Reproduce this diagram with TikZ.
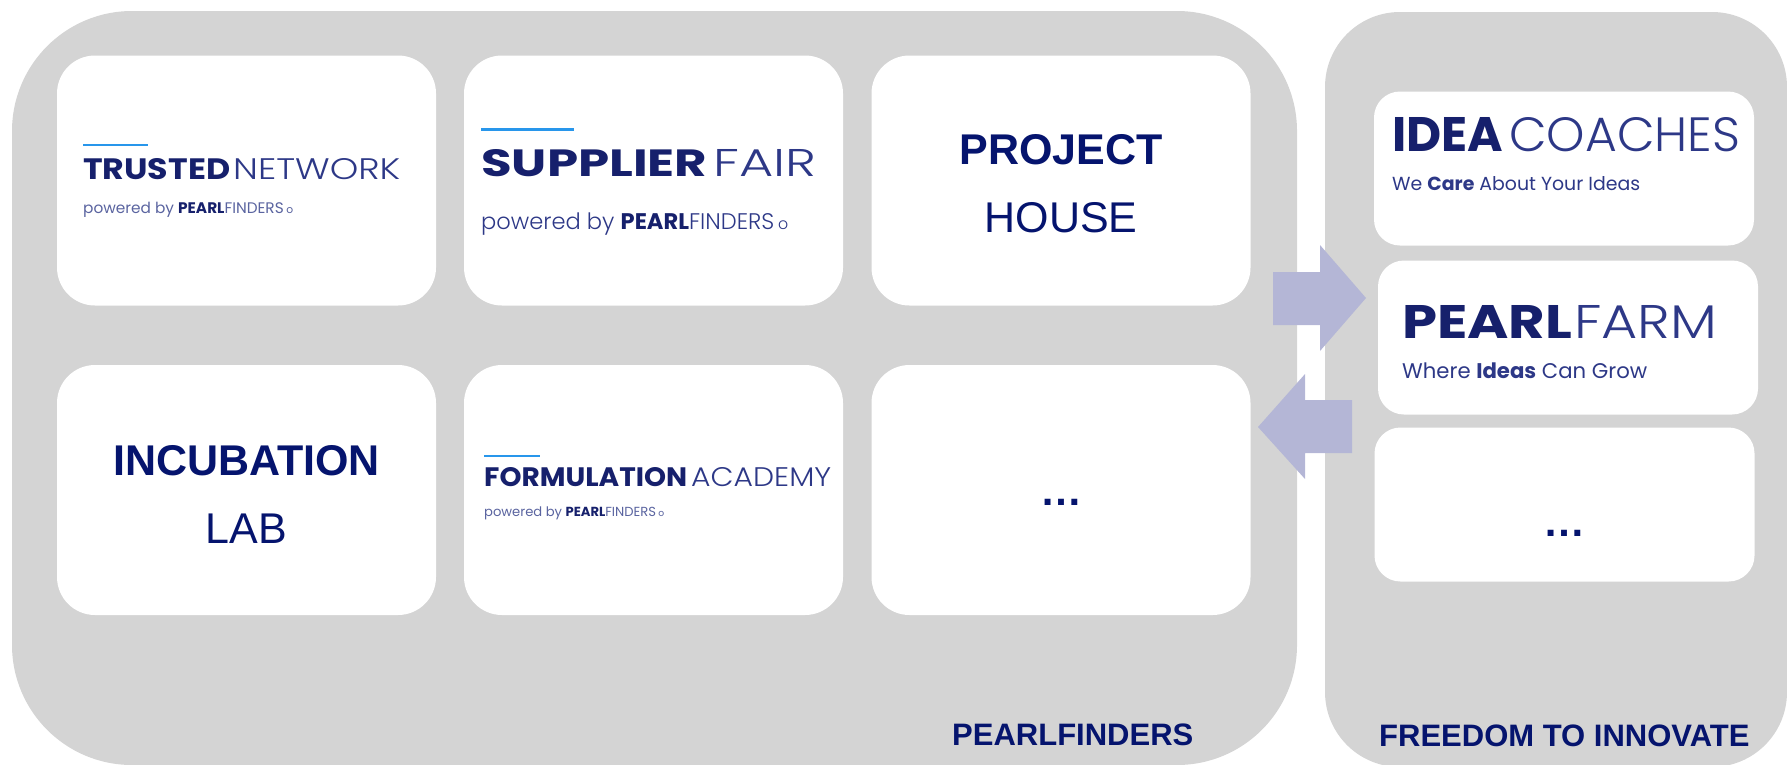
\documentclass[tikz,border=0pt]{standalone}
\usepackage{fontspec}
\usepackage{graphicx}
\setmainfont{Liberation Sans}
\newfontfamily\popB{Poppins Bold}
\newfontfamily\popM{Poppins Medium}
\newfontfamily\popL{Poppins Light}
\newfontfamily\popR{Poppins}
\definecolor{panelgray}{RGB}{212,212,212}
\definecolor{navy}{RGB}{5,20,110}
\definecolor{logonavy}{RGB}{22,32,108}
\definecolor{logolight}{RGB}{45,56,135}
\definecolor{tagcol}{RGB}{90,100,160}
\definecolor{arrowcol}{RGB}{180,182,214}
\definecolor{bluebar}{RGB}{40,150,235}
\newcommand{\fitwh}[3]{\resizebox{#1pt}{#2pt}{#3}}
\newcommand{\fitw}[2]{\resizebox{#1pt}{!}{#2}}
\begin{document}
\begin{tikzpicture}[x=1pt,y=-1pt,
  panel/.style={fill=panelgray},
  bigbox/.style={fill=white, rounded corners=38pt, inner sep=0pt, minimum width=379pt, minimum height=250pt},
  smallbox/.style={fill=white, rounded corners=26pt, inner sep=0pt, minimum width=380pt, minimum height=154pt},
  word/.style={inner sep=0pt, anchor=base west},
  bigtext/.style={inner sep=0pt, anchor=base, text=navy, font=\fontsize{43}{43}\selectfont},
  lbl/.style={inner sep=0pt, anchor=base west, text=navy, font=\fontsize{31}{31}\selectfont\bfseries},
  bar/.style={draw=bluebar, line width=2.5pt},
  blockarrow/.style={fill=arrowcol}
]
\useasboundingbox (0,0) rectangle (1787,764);
% panels
\fill[panel, rounded corners=120pt] (12,11) rectangle (1297,765);
\fill[panel, rounded corners=75pt] (1325,12) rectangle (1787,767);

% boxes left panel
\node[bigbox] (tn) at (246.5,180.5) {};
\node[bigbox] (sf) at (653.5,180.5) {};
\node[bigbox] (ph) at (1061,180.5) {};
\node[bigbox] (il) at (246.5,490) {};
\node[bigbox] (fa) at (653.5,490) {};
\node[bigbox] (more1) at (1061,490) {};
% boxes right panel
\node[smallbox] (ic) at (1564,168.5) {};
\node[smallbox] (pf) at (1568,337.5) {};
\node[smallbox] (more2) at (1564.5,504.5) {};

% arrows
\fill[blockarrow] (1273,272) -- (1320,272) -- (1320,245) -- (1366,298) -- (1320,351) -- (1320,325) -- (1273,325) -- cycle;
\fill[blockarrow] (1352,400) -- (1305,400) -- (1305,374) -- (1258,427) -- (1305,479) -- (1305,453) -- (1352,453) -- cycle;

% Trusted Network
\coordinate (tnbarA) at (83,145);
\coordinate (tnbarB) at (148,145);
\draw[bar, line width=2pt] (tnbarA) -- (tnbarB);
\node[word, text=logonavy] (tn1) at (83,179) {\fitwh{147}{21}{\popB TRUSTED}};
\node[word, text=logolight] (tn2) at (233,179) {\fitwh{167}{21}{\popL NETWORK}};
\node[word, text=tagcol] (tn3) at (83,213) {\fitw{210}{\popR powered by {\color{logonavy}\popB PEARL}FINDERS\,{\scriptsize o}}};

% Supplier Fair
\coordinate (sfbarA) at (481,129);
\coordinate (sfbarB) at (574,129);
\draw[bar, line width=3pt] (sfbarA) -- (sfbarB);
\node[word, text=logonavy] (sf1) at (481,176) {\fitwh{226}{27}{\popB SUPPLIER}};
\node[word, text=logolight] (sf2) at (713,176) {\fitwh{103}{27}{\popL FAIR}};
\node[word, text=logolight] (sf3) at (481,229) {\fitw{307}{\popL powered by {\color{logonavy}\popB PEARL}FINDERS\,{\scriptsize o}}};

% Formulation Academy
\coordinate (fabarA) at (484,456);
\coordinate (fabarB) at (540,456);
\draw[bar, line width=2.2pt] (fabarA) -- (fabarB);
\node[word, text=logonavy] (fa1) at (484,486) {\fitwh{203}{19}{\popB FORMULATION}};
\node[word, text=logolight] (fa2) at (691,486) {\fitwh{140}{19}{\popL ACADEMY}};
\node[word, text=tagcol] (fa3) at (484,516) {\fitw{180}{\popR powered by {\color{logonavy}\popB PEARL}FINDERS\,{\scriptsize o}}};

% Project House
\node[bigtext, font=\fontsize{43}{43}\selectfont\bfseries] (ph1) at (1061,164) {PROJECT};
\node[bigtext] (ph2) at (1061,232) {HOUSE};

% Incubation Lab
\node[bigtext, font=\fontsize{43}{43}\selectfont\bfseries] (il1) at (246.5,475) {INCUBATION};
\node[bigtext] (il2) at (246.5,543) {LAB};

% dots
\node[bigtext, font=\fontsize{42}{42}\selectfont\bfseries] (d1) at (1061.5,505) {…};
\node[bigtext, font=\fontsize{42}{42}\selectfont\bfseries] (d2) at (1564,536) {…};

% Idea Coaches
\node[word, text=logonavy] (ic1) at (1392,151) {\fitwh{111}{34}{\popB IDEA}};
\node[word, text=logolight] (ic2) at (1509,151) {\fitwh{231}{34}{\popL COACHES}};
\node[word, text=logolight] (ic3) at (1392,190) {\fitw{248}{\popR We {\popB Care} About Your Ideas}};

% Pearl Farm
\node[word, text=logonavy] (pf1) at (1402,338) {\fitwh{170}{33}{\popB PEARL}};
\node[word, text=logolight] (pf2) at (1574,338) {\fitwh{143}{33}{\popL FARM}};
\node[word, text=logolight] (pf3) at (1402,378) {\fitw{245}{\popR Where {\popB Ideas} Can Grow}};

% panel labels
\node[lbl] (lab1) at (952,745) {PEARLFINDERS};
\node[lbl] (lab2) at (1379,746) {FREEDOM TO INNOVATE};
\end{tikzpicture}
\end{document}
